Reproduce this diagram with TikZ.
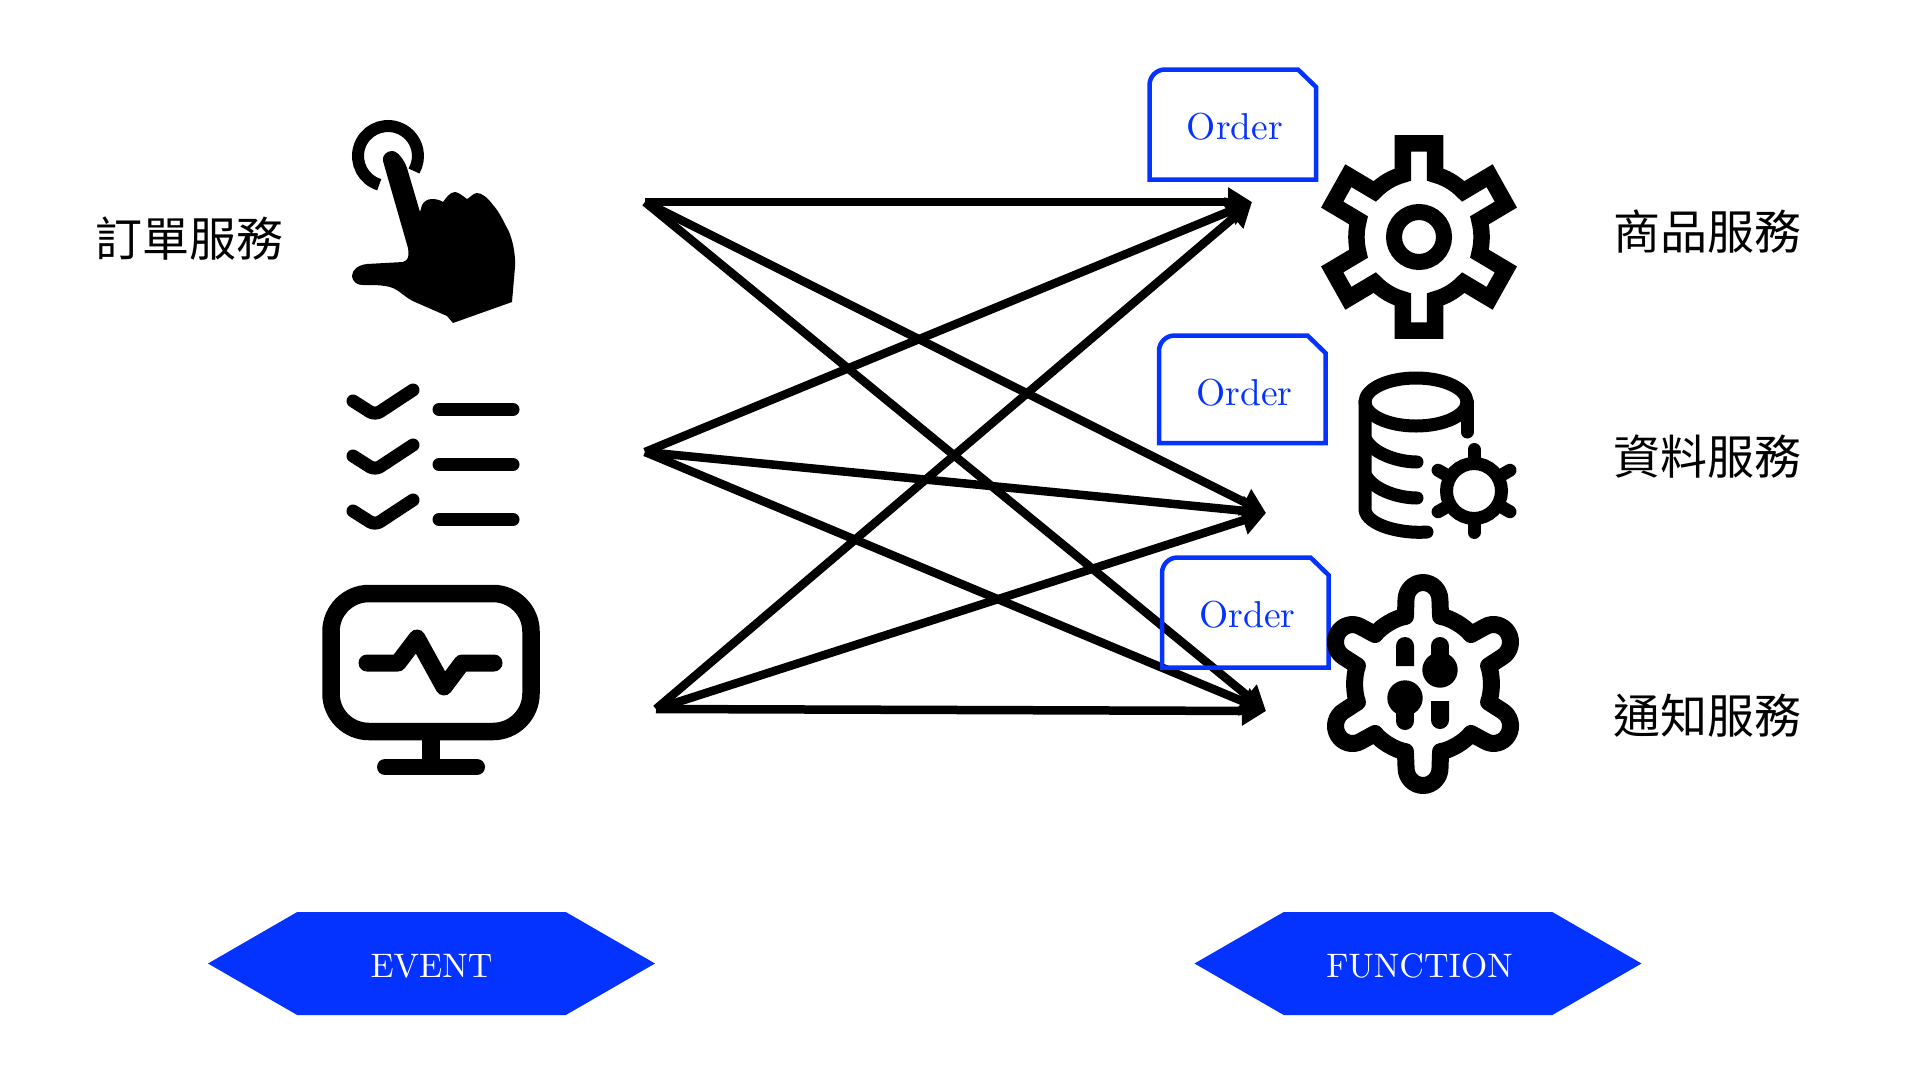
\documentclass[tikz,border=0pt]{standalone}
\usepackage{fontspec}
\usetikzlibrary{arrows.meta,shapes.symbols}
\newfontfamily\cjk{Noto Sans CJK TC}
\definecolor{evblue}{HTML}{0433FF}
\newcommand{\bigword}[2]{\raisebox{-14pt}[0pt][0pt]{\scalebox{#1}{#2}}}
\begin{document}
\begin{tikzpicture}[
    x=1pt, y=-1pt,
    service/.style={font=\cjk\fontsize{47}{50}\selectfont, inner sep=0pt},
    banner/.style={signal, signal to=west and east, signal pointer angle=60, fill=evblue, draw=none,
        text=white, minimum width=447pt, minimum height=103pt, inner sep=0pt},
    ordertext/.style={text=evblue, inner sep=0pt},
    orderbox/.style={draw=evblue, line width=4.5pt},
    flow/.style={line width=8.5pt, -{Triangle[length=24pt,width=28pt]}},
    icon/.style={line width=#1, line cap=round, line join=round},
    icon/.default=13pt
]
\useasboundingbox (0,0) rectangle (1920,1080);

% ends of the connectors
\coordinate (ev1) at (645,202);
\coordinate (ev2) at (645,452);
\coordinate (ev3) at (656,709);
\coordinate (fn1) at (1252,202);
\coordinate (fn2) at (1266,513);
\coordinate (fn3) at (1266,711);
\foreach \i in {1,2,3} {
    \foreach \j in {1,2,3} {
        \draw[flow] (ev\i) -- (fn\j);
    }
}

% order boxes
\foreach \name/\dx/\dy/\low in {a/0/0/179.5, b/9.5/266/177, c/12.5/488/179.5} {
    \begin{scope}[shift={(\dx,\dy)}]
        \draw[orderbox] (1149.5,\low) -- (1149.5,85)
            arc[start angle=180, end angle=270, radius=15.5]
            -- (1298,69.5) -- (1316,87) -- (1316,\low) -- cycle;
        \node[ordertext] (order\name) at (1235,127) {\scalebox{3.75}{Order}};
    \end{scope}
}

% labels
\node[service] (orderservice) at (189,239) {訂單服務};
\node[service] (goodsservice) at (1707,232) {商品服務};
\node[service] (dataservice) at (1707,457) {資料服務};
\node[service] (noticeservice) at (1707,716) {通知服務};
\node[banner] (event) at (431.5,963.5) {\bigword{3.4}{EVENT}};
\node[banner] (function) at (1418,963.5) {\hspace{3pt}\bigword{3.4}{FUNCTION}};

% hand
\draw[line width=12pt] (388,156) ++(107:30) arc[start angle=107, end angle=390, radius=30];
\fill (392,151) .. controls (387,151) and (382,155) .. (383,161) -- (408,248)
    .. controls (409,256) and (409,260) .. (403,262) -- (367,264)
    .. controls (358,265) and (352,270) .. (352,276)
    .. controls (353,283) and (358,285) .. (363,285)
    .. controls (375,285) and (382,285) .. (390,287)
    .. controls (400,290) and (405,298) .. (415,302) -- (447,316) -- (453,323)
    -- (512,302) -- (515,267)
    .. controls (516,250) and (510,232) .. (507,228)
    .. controls (503,220) and (498,210) .. (493,205)
    .. controls (488,198) and (482,193) .. (477,193)
    .. controls (473,193) and (470,198) .. (467,199)
    .. controls (463,196) and (458,192) .. (455,192)
    .. controls (450,192) and (446,198) .. (443,202)
    .. controls (440,200) and (436,199) .. (432,199)
    .. controls (428,199) and (424,201) .. (422,205)
    -- (420,212) -- (407,168)
    .. controls (404,160) and (398,151) .. (392,151) -- cycle;

% checklist
\foreach \dy in {0,55,110} {
    \draw[icon=13pt, rounded corners=6pt] (353,401+\dy) -- (375,415+\dy) -- (413,390+\dy);
    \draw[icon] (439,409.5+\dy) -- (513,409.5+\dy);
}

% monitor
\draw[line width=17.5pt, rounded corners=38pt] (331,593.5) rectangle (531,731.5);
\draw[line width=17.5pt] (431,740) -- (431,762);
\draw[icon=16pt] (385,767) -- (477,767);
\draw[icon=17pt] (367,663) -- (398,663) -- (417,638) -- (444,687) -- (462,663) -- (494,663);

% big gear
\begin{scope}[shift={(1419,237)}, xscale=.97]
    \draw[line width=16.5pt] (0:64.5) \foreach \a in {30,90,...,330} {
        arc[start angle=\a-30, end angle=\a-15, radius=64.5]
        -- (\a-10.1:95.2) -- (\a+10.1:95.2) -- (\a+15:64.5)
        arc[start angle=\a+15, end angle=\a+30, radius=64.5]
    } arc[start angle=0, end angle=4, radius=64.5];
\end{scope}
\draw[line width=16pt] (1419,237) circle[radius=25];

% database
\draw[icon] (1416,402) ellipse[x radius=51, y radius=24];
\draw[icon] (1365,402) -- (1365,510) .. controls (1367,525) and (1400,534) .. (1427,532);
\draw[icon] (1467,402) -- (1467,432);
\draw[icon] (1366,440) .. controls (1375,455) and (1400,462) .. (1417,462);
\draw[icon] (1366,476) .. controls (1375,491) and (1400,498) .. (1417,498);
\begin{scope}[shift={(1474,491)}]
    \draw[line width=13pt] (0,0) circle[radius=27.5];
    \foreach \a in {30,90,...,330} {
        \draw[icon] (\a:30) -- (\a:41.5);
    }
\end{scope}

% toggle gear
\begin{scope}[shift={(1423,684)}, xscale=.97]
    \draw[line width=17pt, line join=round] (15:70) \foreach \a in {30,90,...,330} {
        -- (\a-15:70) -- (\a-11.8:85.8)
        arc[start angle=\a-90, end angle=\a+90, radius=17.5]
        -- (\a+15:70) .. controls (\a+23:72) and (\a+37:72) .. (\a+45:70)
    } -- cycle;
\end{scope}
\begin{scope}[shift={(1423,684)}]
    \fill (-27,-18) -- (-27,-38) arc[start angle=180, end angle=360, radius=9] -- (-9,-18) -- cycle;
    \fill (-18,14) circle[radius=17.7];
    \draw[icon=18pt] (-18,14) -- (-18,37);
    \fill (17,-14) circle[radius=17.7];
    \draw[icon=18pt] (17,-14) -- (17,-38);
    \fill (8,17) -- (8,36) arc[start angle=180, end angle=0, radius=9] -- (26,17) -- cycle;
\end{scope}
\end{tikzpicture}
\end{document}
